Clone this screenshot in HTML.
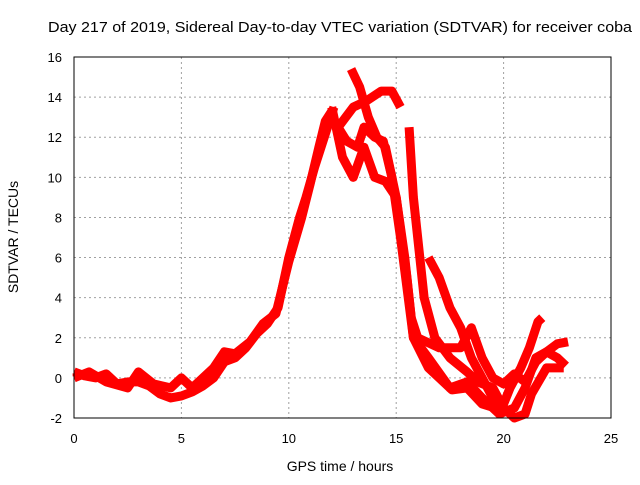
<!DOCTYPE html>
<html><head><meta charset="utf-8"><style>
body{margin:0;background:#fff;font-family:"Liberation Sans",sans-serif}
svg text{font-family:"Liberation Sans",sans-serif;font-size:13px;fill:#000}
</style></head><body>
<svg id="c" width="640" height="480">
<text x="48" y="32" textLength="584" lengthAdjust="spacingAndGlyphs" style="font-size:15px">Day 217 of 2019, Sidereal Day-to-day VTEC variation (SDTVAR) for receiver coba</text>
<text x="340" y="471" text-anchor="middle" style="font-size:14px">GPS time / hours</text>
<text transform="translate(18,237) rotate(-90)" text-anchor="middle" style="font-size:14px">SDTVAR / TECUs</text>
<g id="grid"></g><g id="marks"></g>
<rect x="74" y="57" width="537" height="361" fill="none" stroke="#000"/>
</svg>
<script>
const xTicks=[0,5,10,15,20,25];
const yTicks=[-2,0,2,4,6,8,10,12,14,16];
const rise=[[0,0.3],[0.5,0.1],[1,0],[1.5,0.2],[2,-0.3],[2.5,-0.2],[3,-0.2],[3.5,-0.4],[4,-0.8],[4.5,-1],[5,-0.9],[5.5,-0.7],[6,-0.4],[6.5,0],[7,0.8],[7.5,1],[8,1.5],[8.5,2.2],[9,2.7],[9.5,3.5],[10,6],[10.5,8],[10.8,9],[11.2,10.5],[11.5,11.5],[11.8,12.5],[12.1,13.5]];
const rise2=[[0,0],[0.7,0.3],[1.5,-0.2],[2.5,-0.5],[3,0.3],[3.7,-0.3],[4.5,-0.5],[5,0],[5.5,-0.5],[6,0],[6.5,0.5],[7,1.3],[7.5,1.2],[8.2,1.8],[8.8,2.7],[9.4,3.2],[10,5.8],[10.6,8],[11,9.7],[11.4,11.5],[11.7,12.8],[12,13.3]];
const t1=[[12,13.5],[12.5,11],[13,10],[13.5,11.5],[14,10],[14.5,9.8],[15,9],[15.5,5],[15.8,2],[16.5,1],[17.5,-0.5],[18.3,-0.2],[19,-1],[19.8,-1.8],[20.5,-1.5],[21,-0.5],[21.5,1],[22,1.3],[22.5,1],[22.9,0.6]];
const t2=[[12.3,12.5],[13,13.5],[13.6,13.8],[14.3,14.3],[14.8,14.3],[15.2,13.5]];
const t2b=[[16.5,6],[17,5],[17.5,3.5],[18,2.5],[18.5,1],[19,0],[19.5,-1],[20,-1.3],[20.3,-0.5],[20.8,0.5],[21.2,1.5],[21.6,2.8],[21.8,3]];
const t3=[[12.9,15.4],[13.3,14.5],[13.7,13],[14.1,12],[14.5,11.5],[15,9],[15.4,6],[15.7,3],[16,2],[17,1.5],[18,1.5],[18.5,2.5],[19,1],[19.5,0],[20,-0.3],[20.5,0.2],[21,-0.2],[21.5,0.8],[22,1.3],[22.5,1.7],[23,1.8]];
const t4=[[15.6,12.5],[15.8,9],[16,7],[16.3,4],[16.8,2],[17.5,1],[18.3,0.3],[18.8,-0.2],[19.5,-0.5],[20,-1.5],[20.5,-2],[21,-1.8],[21.3,-0.8],[22,0.5],[22.8,0.5]];
const t5=[[12,13],[12.7,11.8],[13.2,11.5],[13.5,12.5],[14,12],[14.4,11.8],[14.8,10],[15.2,7],[15.5,4.5],[15.8,2],[16.5,0.5],[17,0],[17.6,-0.6],[18.3,-0.5],[19,-1.3],[19.6,-1.5],[20.2,-1.7]];
const series=[rise,rise2,t1,t2,t2b,t3,t4,t5];
const X=v=>74+v*537/25, Y=v=>418-(v+2)*361/18;
const NS="http://www.w3.org/2000/svg";
const g=document.getElementById('grid'), m=document.getElementById('marks');
xTicks.forEach(t=>{
  if(t>0&&t<25){const l=document.createElementNS(NS,'line');
  
  
  l.setAttribute('x1',X(t));l.setAttribute('x2',X(t));l.setAttribute('y1',57);l.setAttribute('y2',418);
  l.setAttribute('stroke','#a0a0a0');l.setAttribute('stroke-dasharray','2,3');g.appendChild(l);}
  const s=document.createElementNS(NS,'text');
  
  
  s.setAttribute('x',X(t));s.setAttribute('y',443);s.setAttribute('text-anchor','middle');s.textContent=t;g.appendChild(s);
});
yTicks.forEach(t=>{
  if(t>-2&&t<16){const l=document.createElementNS(NS,'line');
  
  
  l.setAttribute('x1',74);l.setAttribute('x2',611);l.setAttribute('y1',Y(t));l.setAttribute('y2',Y(t));
  l.setAttribute('stroke','#a0a0a0');l.setAttribute('stroke-dasharray','2,3');g.appendChild(l);}
  const s=document.createElementNS(NS,'text');
  
  
  s.setAttribute('x',62);s.setAttribute('y',Y(t)+5);s.setAttribute('text-anchor','end');s.textContent=t;g.appendChild(s);
});
series.forEach(s=>{
  const p=document.createElementNS(NS,'polyline');
  
  
  p.setAttribute('points',s.map(d=>X(d[0])+','+Y(d[1])).join(' '));
  p.setAttribute('fill','none');p.setAttribute('stroke','#ff0000');p.setAttribute('stroke-width','9');
  p.setAttribute('stroke-linejoin','round');p.setAttribute('stroke-linecap','butt');m.appendChild(p);
});
</script>
</body></html>
